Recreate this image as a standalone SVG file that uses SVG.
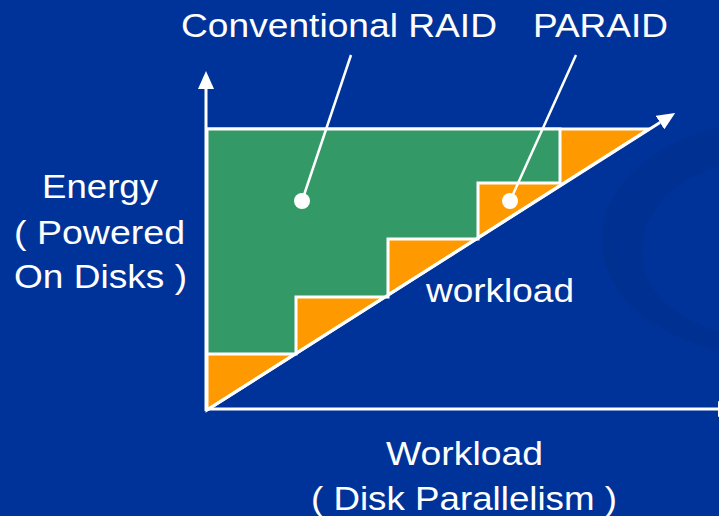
<svg xmlns="http://www.w3.org/2000/svg" width="719" height="516" viewBox="0 0 719 516">
  <style>
    .lbl { font-family: "Liberation Sans", Arial, sans-serif; font-size: 33px; fill: #ffffff; }
    .wire { stroke: #ffffff; stroke-width: 3; fill: none; }
    .call { stroke: #ffffff; stroke-width: 2.5; fill: none; }
    .edge { stroke: #ffffff; stroke-width: 3; stroke-linejoin: miter; }
  </style>
  <defs>
    <marker id="arrow" viewBox="0 0 18 16" markerWidth="18" markerHeight="16" refX="0" refY="8" orient="auto" markerUnits="userSpaceOnUse">
      <path d="M0,0 L18,8 L0,16 Z" fill="#ffffff"/>
    </marker>
  </defs>

  <!-- backdrop -->
  <rect x="0" y="0" width="719" height="516" fill="#003399"/>
  <path d="M719,128 C660,140 598,185 602,245 C606,300 660,335 719,352 L719,332 C675,318 640,290 642,248 C645,205 680,178 719,166 Z" fill="#00308f" opacity="0.8"/>
  <path d="M612,215 C596,260 610,300 660,330 C625,300 605,265 612,215 Z" fill="#00308f" opacity="0.5"/>

  <!-- energy regions -->
  <g id="paraid-area">
    <polygon class="edge" points="207,129 649,129 207,410" fill="#ff9900"/>
  </g>
  <g id="raid-area">
    <polygon class="edge" points="207,129 560,129 560,183 478,183 478,239 388,239 388,297 296,297 296,354 207,354" fill="#339966"/>
  </g>

  <!-- axes and workload line -->
  <g id="connectors">
    <line class="wire" x1="206" y1="411" x2="206" y2="89" marker-end="url(#arrow)"/>
    <line class="wire" x1="205" y1="409" x2="718" y2="409" marker-end="url(#arrow)"/>
    <line class="wire" x1="207" y1="410" x2="660" y2="122.6" marker-end="url(#arrow)"/>
    <line class="call" x1="351" y1="55" x2="302" y2="201"/>
    <line class="call" x1="576" y1="55" x2="510" y2="201"/>
  </g>

  <g id="raid-callout">
    <circle cx="302" cy="201" r="8" fill="#ffffff"/>
    <text class="lbl" x="181" y="37" textLength="316" lengthAdjust="spacingAndGlyphs">Conventional RAID</text>
  </g>
  <g id="paraid-callout">
    <circle cx="510" cy="201" r="8" fill="#ffffff"/>
    <text class="lbl" x="533" y="37" textLength="135" lengthAdjust="spacingAndGlyphs">PARAID</text>
  </g>

  <g id="y-label">
    <text class="lbl" x="42" y="198" textLength="116" lengthAdjust="spacingAndGlyphs">Energy</text>
    <text class="lbl" x="14" y="244" textLength="171" lengthAdjust="spacingAndGlyphs">( Powered</text>
    <text class="lbl" x="14" y="288" textLength="173" lengthAdjust="spacingAndGlyphs">On Disks )</text>
  </g>

  <g id="workload-label">
    <text class="lbl" x="426" y="302" textLength="148" lengthAdjust="spacingAndGlyphs">workload</text>
  </g>

  <g id="x-label">
    <text class="lbl" x="386" y="465" textLength="157" lengthAdjust="spacingAndGlyphs">Workload</text>
    <text class="lbl" x="311" y="510" textLength="306" lengthAdjust="spacingAndGlyphs">( Disk Parallelism )</text>
  </g>
</svg>
